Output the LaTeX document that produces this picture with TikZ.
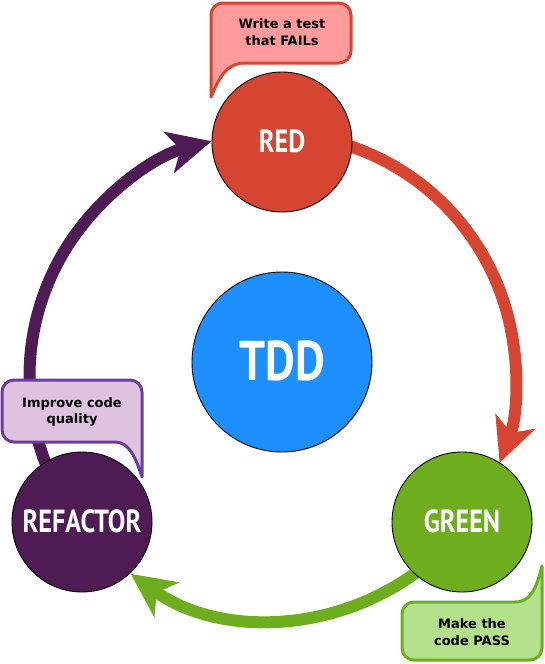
\documentclass[tikz,border=0pt]{standalone}
\usepackage{fontspec}
\usetikzlibrary{arrows.meta}
\newfontfamily\calloutfont{DejaVu Sans}
\newfontfamily\labelfont{PT Sans}[FakeStretch=0.82]
\definecolor{redc}{HTML}{D64532}
\definecolor{greenc}{HTML}{6EAD1D}
\definecolor{purplec}{HTML}{4E1B54}
\definecolor{bluec}{HTML}{1E8FFF}
\definecolor{pinkfill}{HTML}{FF9B9B}
\definecolor{lavfill}{HTML}{DFC1E0}
\definecolor{lavdraw}{HTML}{6A3D9A}
\definecolor{lgfill}{HTML}{B3E08B}
\definecolor{lgdraw}{HTML}{6BAE22}
\tikzset{
  phase/.style={circle, draw=black, line width=0.9pt, minimum size=140pt, inner sep=0pt,
    text=white, font=\labelfont\bfseries\fontsize{32}{32}\selectfont},
  flow/.style={line width=12pt, -{Stealth[length=44pt, width=42pt, inset=12pt]}},
  bubble/.style={line width=3pt, line join=round},
  bubbletext/.style={align=center, inner sep=0pt, font=\calloutfont\bfseries\fontsize{13}{16.7}\selectfont}
}
\begin{document}
\begin{tikzpicture}[x=1pt, y=-1pt]
\useasboundingbox (0,0) rectangle (544,664);
% ring geometry
\coordinate (ring) at (272.5,376.5);
\path (ring) ++(-75:243) coordinate (rs);
\path (ring) ++(50:243) coordinate (gs);
\path (ring) ++(155:243) coordinate (ps);
% arcs
\draw[flow, redc] (rs) arc[start angle=-75, end angle=20.8, radius=243];
\draw[flow, greenc] (gs) arc[start angle=50, end angle=125.7, radius=243];
\draw[flow, purplec] (ps) arc[start angle=155, end angle=255.5, radius=243];
% circles
\node[phase, fill=redc] (RED) at (282,142) {\raisebox{2pt}{RED}};
\node[phase, fill=greenc] (GREEN) at (462,522) {\raisebox{2pt}{GREEN}};
\node[phase, fill=purplec] (REFACTOR) at (82,522) {\raisebox{2pt}{REFACTOR}};
\node[circle, draw=black, line width=0.9pt, minimum size=180pt, inner sep=0pt, fill=bluec,
  text=white, font=\labelfont\bfseries\fontsize{56}{56}\selectfont] (TDD) at (282,362) {\raisebox{2pt}{TDD}};
% callouts
\draw[bubble, draw=redc, fill=pinkfill] (211,97) -- (211,15) arc[start angle=180, end angle=270, radius=12]
  -- (339,3) arc[start angle=270, end angle=360, radius=12]
  -- (351,51) arc[start angle=0, end angle=90, radius=12]
  -- (245,63) .. controls (228,63) and (220,75) .. (211,97) -- cycle;
\node[bubbletext] (t1) at (282,32) {Write a test\\that FAILs};
\draw[bubble, draw=lavdraw, fill=lavfill] (142,477) -- (142,392) arc[start angle=0, end angle=-90, radius=12]
  -- (14,380) arc[start angle=270, end angle=180, radius=12]
  -- (2,430) arc[start angle=180, end angle=90, radius=12]
  -- (115,442) .. controls (128,442) and (135,455) .. (142,477) -- cycle;
\node[bubbletext] (t2) at (72,412) {Improve code\\quality};
\draw[bubble, draw=lgdraw, fill=lgfill] (542,566) -- (542,648) arc[start angle=0, end angle=90, radius=12]
  -- (414,660) arc[start angle=90, end angle=180, radius=12]
  -- (402,614) arc[start angle=180, end angle=270, radius=12]
  -- (515,602) .. controls (530,602) and (536,590) .. (542,566) -- cycle;
\node[bubbletext] (t3) at (472,632) {Make the\\code PASS};
\end{tikzpicture}
\end{document}
